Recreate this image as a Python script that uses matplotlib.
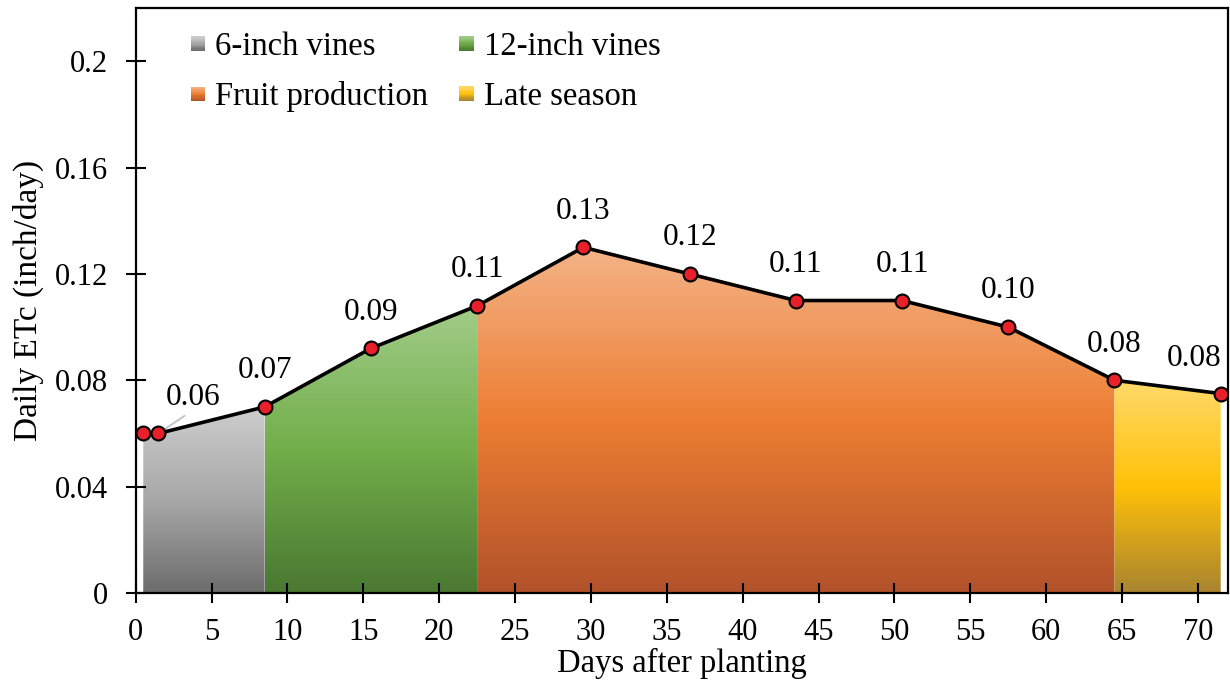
import numpy as np
import matplotlib
matplotlib.use("Agg")
import matplotlib.pyplot as plt
from matplotlib.colors import LinearSegmentedColormap
from matplotlib.patches import Rectangle, Polygon
from matplotlib.legend_handler import HandlerBase

plt.rcParams['font.family'] = ['Liberation Serif', 'DejaVu Serif']

# data
days = [0.5, 1.5, 8.5, 15.5, 22.5, 29.5, 36.5, 43.5, 50.5, 57.5, 64.5, 71.5]
etc = [0.060, 0.060, 0.070, 0.092, 0.108, 0.130, 0.120, 0.110, 0.110, 0.100, 0.080, 0.075]
labels = ['', '0.06', '0.07', '0.09', '0.11', '0.13', '0.12', '0.11', '0.11', '0.10', '0.08', '0.08']

stages = ['6-inch vines', '12-inch vines', 'Fruit production', 'Late season']
stage_start = [0.5, 8.5, 22.5, 64.5]
stage_end = [8.5, 22.5, 64.5, 71.5]
stage_colors = [
    ['#cdcdcd', '#a8a8a8', '#6c6c6c'],
    ['#a2cd8a', '#72ae4a', '#4a7831'],
    ['#f4b387', '#ec7e32', '#b2522a'],
    ['#ffda6a', '#ffc108', '#a8842f'],
]

fig = plt.figure(figsize=(12.3, 6.85), dpi=100)
ax = fig.add_axes([0.1103, 0.1343, 0.8877, 0.8540])

x = np.array(days)
y = np.array(etc)

# gradient filled areas for each growth stage
for s in range(4):
    x0, x1 = stage_start[s], stage_end[s]
    xs = np.linspace(x0, x1, 200)
    ys = np.interp(xs, x, y)
    verts = [(x0, 0)] + list(zip(xs, ys)) + [(x1, 0)]
    poly = Polygon(verts, closed=True, facecolor='none', edgecolor='none')
    ax.add_patch(poly)
    cmap = LinearSegmentedColormap.from_list('g%d' % s, stage_colors[s])
    grad = np.linspace(0, 1, 256).reshape(-1, 1)
    im = ax.imshow(grad, cmap=cmap, aspect='auto', origin='upper',
                   extent=[x0, x1, 0, ys.max()], zorder=1, interpolation='bilinear')
    im.set_clip_path(poly)

ax.plot(x, y, color='black', lw=2.6, zorder=3, marker='o', markersize=10,
        markerfacecolor='#e8202a', markeredgecolor='black', markeredgewidth=1.5)

for i in range(len(days)):
    if labels[i] == '':
        continue
    if i == 1:
        ax.annotate(labels[i], xy=(days[i], etc[i]), xytext=(25, 26),
                    textcoords='offset points', ha='center', va='center', fontsize=22.5,
                    arrowprops=dict(arrowstyle='-', color='#c0c0c0', lw=1.3,
                                    relpos=(0.45, 0), patchA=None,
                                    shrinkA=5, shrinkB=3), zorder=2)
    elif i == len(days) - 1:
        ax.annotate(labels[i], xy=(days[i], etc[i]), xytext=(-19, 25),
                    textcoords='offset points', ha='center', va='center', fontsize=22.5)
    else:
        ax.annotate(labels[i], xy=(days[i], etc[i]), xytext=(0, 26),
                    textcoords='offset points', ha='center', va='center', fontsize=22.5)

ax.set_xlim(0, 71.95)
ax.set_ylim(0, 0.22)
ax.set_xticks(np.arange(0, 71, 5))
ax.set_yticks([0, 0.04, 0.08, 0.12, 0.16, 0.2])
ax.set_yticklabels(['0', '0.04', '0.08', '0.12', '0.16', '0.2'])
ax.tick_params(direction='inout', length=14, width=1.5, labelsize=22)
ax.tick_params(axis='x', pad=11)
ax.tick_params(axis='y', pad=13)
for sp in ax.spines.values():
    sp.set_linewidth(1.6)

ax.set_xlabel('Days after planting', fontsize=23.5, labelpad=1)
ax.set_ylabel('Daily ETc (inch/day)', fontsize=24, labelpad=8)


class GradientHandler(HandlerBase):
    def __init__(self, colors):
        super().__init__()
        self.colors = colors

    def create_artists(self, legend, orig_handle, xdescent, ydescent,
                       width, height, fontsize, trans):
        cmap = LinearSegmentedColormap.from_list('h', self.colors)
        n = 12
        size = width
        y0 = (height - size) / 2
        arts = []
        for k in range(n):
            r = Rectangle((-xdescent, -ydescent + y0 + size * (n - 1 - k) / n),
                          size, size / n + 0.05, facecolor=cmap(k / (n - 1)),
                          edgecolor='none', transform=trans)
            arts.append(r)
        return arts


# legend order so that rows read: 6-inch, 12-inch / Fruit, Late
order = [0, 2, 1, 3]
handles = [Rectangle((0, 0), 1, 1) for s in stages]
hmap = {handles[s]: GradientHandler(stage_colors[s]) for s in range(4)}
ax.legend([handles[i] for i in order], [stages[i] for i in order],
          handler_map=hmap, ncol=2, loc='upper left',
          bbox_to_anchor=(0.0504, 0.96), borderaxespad=0, borderpad=0,
          frameon=False, fontsize=23.5,
          handlelength=0.45, handletextpad=0.3, columnspacing=0.95,
          labelspacing=0.6)

fig.savefig('out.png', dpi=100)
